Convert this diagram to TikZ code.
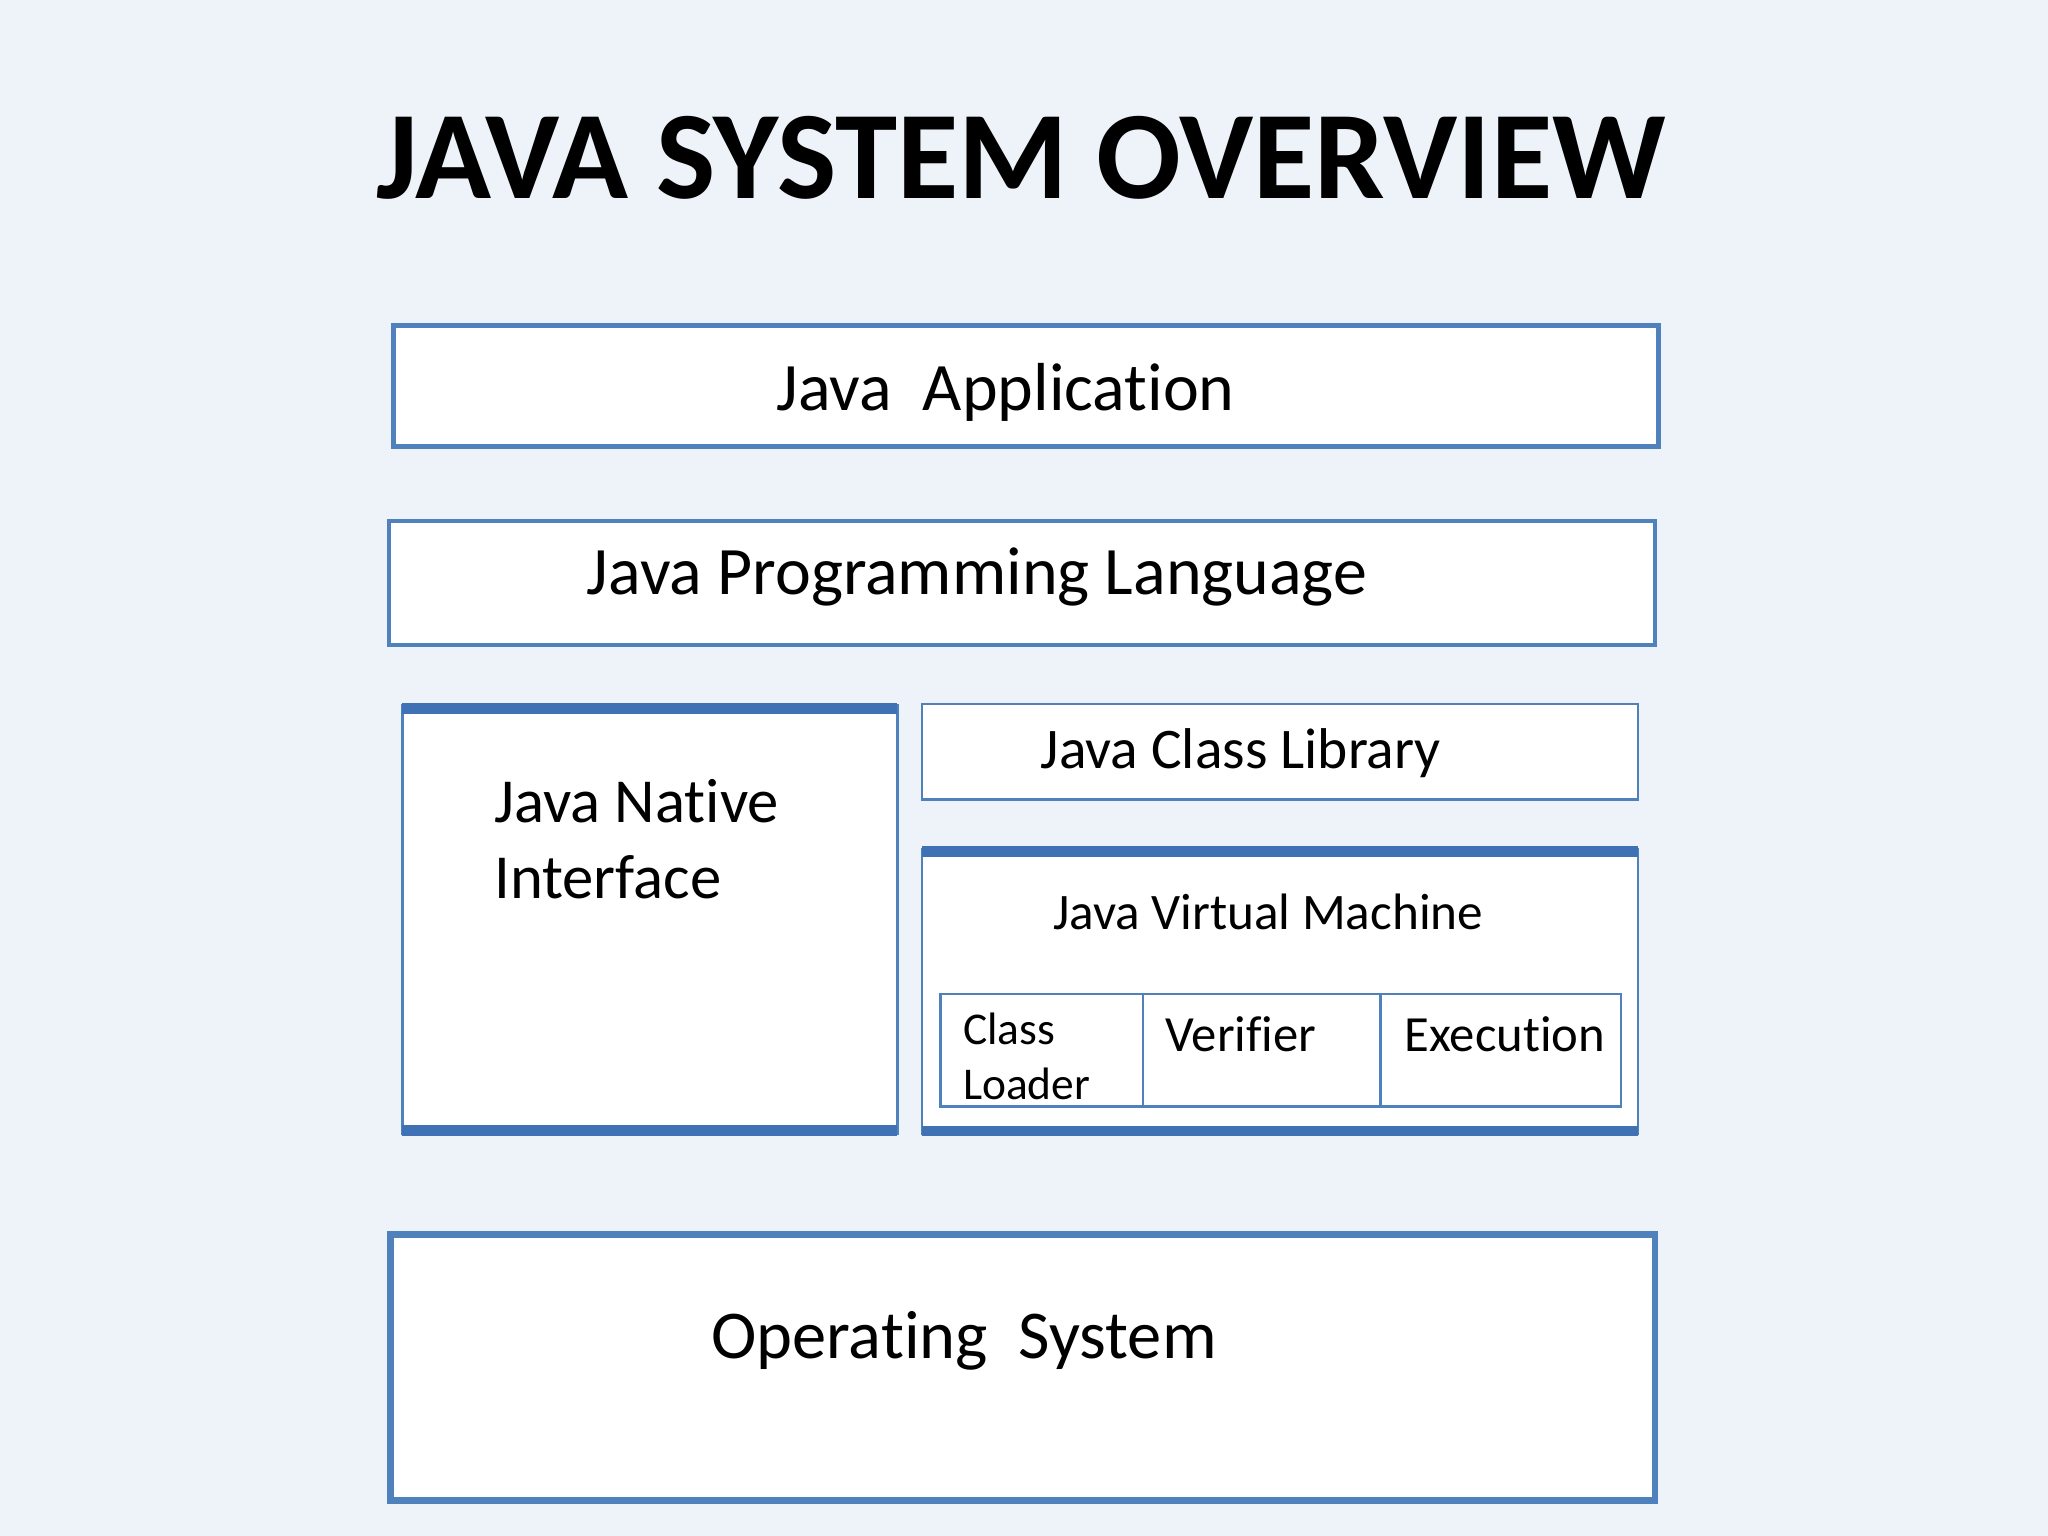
\documentclass[tikz,border=0pt]{standalone}
\usepackage{fontspec}
\setmainfont{Carlito}[Ligatures=NoCommon]
\definecolor{bg}{HTML}{EEF3FA}
\definecolor{bblue}{HTML}{4F81BD}
\definecolor{dblue}{HTML}{3F72B5}
\tikzset{
  layer/.style={draw=bblue, fill=white, line width=#1, inner sep=0pt},
  layer/.default=2pt,
  lbl/.style={anchor=base, inner sep=0pt, text=black},
  lbll/.style={anchor=base west, inner sep=0pt, text=black},
  band/.style={fill=dblue, draw=none},
}
\begin{document}
\begin{tikzpicture}[x=0.5pt,y=-0.5pt]
\useasboundingbox[fill=bg] (0,0) rectangle (1568,1176);
% title
\node[lbl, font=\bfseries\fontsize{48}{58}\selectfont] (title) at (782,152) {JAVA SYSTEM OVERVIEW};
% Java Application
\draw[layer=2pt] (301,249) rectangle (1270,342);
\node (app) [lbl, font=\fontsize{26}{31}\selectfont] at (770,314) {Java\ \ Application};
% Java Programming Language
\draw[layer=1.5pt] (298,399) rectangle (1267,494);
\node (lang) [lbl, font=\fontsize{26}{31}\selectfont] at (748,455) {Java Programming Language};
% JNI
\draw[layer=1pt] (308,540) rectangle (687,868);
\fill[band] (308,538) rectangle (687,547);
\fill[band] (308,861) rectangle (687,870);
\node (jni1) [lbll, font=\fontsize{24}{29}\selectfont] at (378,630) {Java Native};
\node (jni2) [lbll, font=\fontsize{24}{29}\selectfont] at (378,688) {Interface};
% Class Library
\draw[layer=1pt] (706,539) rectangle (1254,612);
\node (lib) [lbl, font=\fontsize{22}{27}\selectfont] at (950,588) {Java Class Library};
% JVM
\draw[layer=1pt] (706,650) rectangle (1254,868);
\fill[band] (706,648) rectangle (1254,656);
\fill[band] (706,862) rectangle (1254,870);
\node (jvm) [lbl, font=\fontsize{19.6}{24}\selectfont] at (971,712) {Java Virtual Machine};
\draw[layer=1pt] (720,761) rectangle (1241,847);
\draw[bblue, line width=1pt] (875,761) -- (875,847);
\draw[bblue, line width=1pt] (1057,761) -- (1057,847);
\node (cl1) [lbll, font=\fontsize{17.4}{21}\selectfont] at (737,800) {Class};
\node (cl2) [lbll, font=\fontsize{17.4}{21}\selectfont] at (737,842) {Loader};
\node (ver) [lbll, font=\fontsize{19.4}{23}\selectfont] at (892,805) {Verifier};
\node (exe) [lbll, font=\fontsize{19.4}{23}\selectfont] at (1075,805) {Execution};
% OS
\draw[layer=2.5pt] (299,945) rectangle (1267,1149);
\node (os) [lbl, font=\fontsize{26.2}{32}\selectfont] at (738,1040) {Operating\ \ System};
\end{tikzpicture}
\end{document}
